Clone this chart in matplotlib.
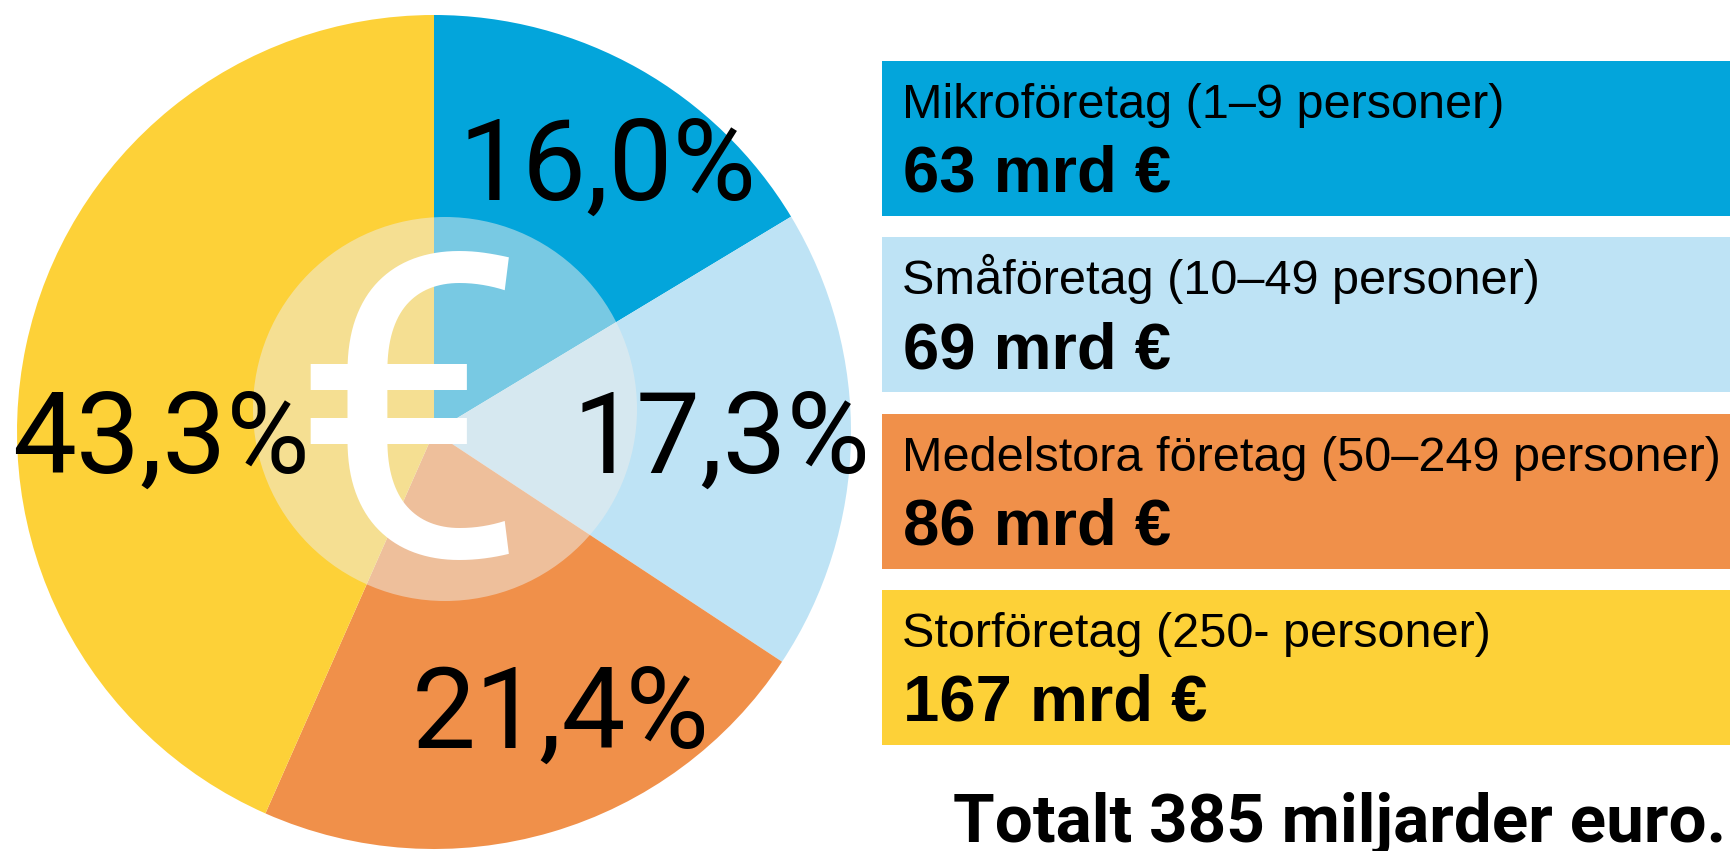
import matplotlib
matplotlib.use("Agg")
import matplotlib.pyplot as plt
from matplotlib.patches import Circle, Rectangle

# andel per storleksklass (procent) och belopp i miljarder euro
klasser = ["Mikroföretag (1–9 personer)",
           "Småföretag (10–49 personer)",
           "Medelstora företag (50–249 personer)",
           "Storföretag (250- personer)"]
procent = [16.0, 17.3, 21.4, 43.3]
mrd = [63, 69, 86, 167]
totalt = 385
farger = ["#03A5DB", "#BEE3F5", "#F0904A", "#FDD138"]

W, H = 1730, 851


def py(y):
    # pixelrad uppifrån -> axelns y
    return H - y


fig = plt.figure(figsize=(W / 100, H / 100), dpi=100)
ax = fig.add_axes([0, 0, 1, 1])

# tårtan, medurs från klockan tolv
ax.pie(mrd, colors=farger, startangle=90, counterclock=False,
       center=(434, py(432)), radius=417, frame=True,
       wedgeprops=dict(linewidth=0))
ax.set_xlim(0, W)
ax.set_ylim(0, H)
ax.set_aspect("equal")
ax.axis("off")

# ljus cirkel i mitten med eurotecken
ax.add_patch(Circle((445, py(409)), 192, facecolor="#EEEEEC", alpha=0.5,
                    edgecolor="none", zorder=3))
ax.text(409, py(556), "€", fontsize=305, family="Roboto",
        color="white", ha="center", va="baseline", zorder=4)

# procentetiketter
etikett_pos = [(608, 200), (722, 473), (561, 748), (161, 473)]
for p, (x, y) in zip(procent, etikett_pos):
    txt = f"{p:.1f}%".replace(".", ",")
    ax.text(x, py(y), txt, fontsize=82, family="Roboto",
            ha="center", va="baseline", zorder=5)

# förklaringsrutor till höger
for i, (namn, v, f) in enumerate(zip(klasser, mrd, farger)):
    top = 61 + i * 176.3
    ax.add_patch(Rectangle((882, py(top + 155)), W - 882, 155,
                           facecolor=f, edgecolor="none", zorder=2))
    ax.text(902, py(top + 57), namn, fontsize=35, family="Liberation Sans",
            ha="left", va="baseline", zorder=5)
    ax.text(903, py(top + 131), f"{v} mrd €", fontsize=47,
            family="Liberation Sans", weight="bold",
            ha="left", va="baseline", zorder=5)

ax.text(1726, py(842), f"Totalt {totalt} miljarder euro.", fontsize=48.5,
        family="Roboto", weight="bold",
        ha="right", va="baseline", zorder=5)

fig.savefig("out.png", dpi=100)
